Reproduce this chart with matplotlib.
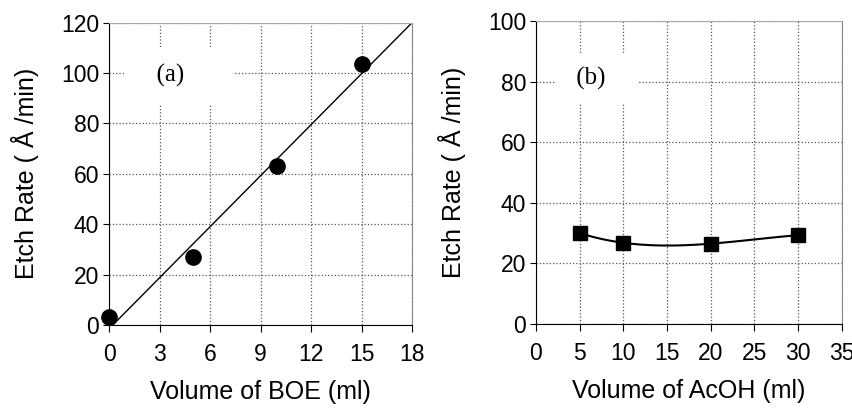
import numpy as np
import matplotlib.pyplot as plt

# (a) etch rate vs BOE volume
boe_vol = [0, 5, 10, 15]
boe_rate = [3, 27, 63, 103.5]
# (b) etch rate vs AcOH volume
acoh_vol = [5, 10, 20, 30]
acoh_rate = [30, 26.8, 26.5, 29.3]

plt.rcParams['font.family'] = ['Liberation Sans', 'DejaVu Sans']
fig = plt.figure(figsize=(8.52, 4.08), dpi=100)
ax1 = fig.add_axes([0.128, 0.2034, 0.3556, 0.7410])
ax2 = fig.add_axes([0.629, 0.206, 0.359, 0.7425])

for ax in (ax1, ax2):
    ax.grid(True, linestyle=':', color='#555555', linewidth=0.9)
    ax.set_axisbelow(True)
    ax.spines['top'].set_color('#aaaaaa')
    ax.spines['right'].set_color('#888888')
    ax.tick_params(axis='x', direction='out', length=5, pad=8, labelsize=16.5)
    ax.tick_params(axis='y', direction='out', length=4, pad=3, labelsize=16.5)
    ax.set_ylabel('Etch Rate ( Å /min)', fontsize=18, labelpad=16)

# linear fit line for (a)
k, b = np.polyfit(boe_vol, boe_rate, 1)
xf = np.linspace(0, 18, 50)
ax1.plot(xf, k * xf + b, color='black', linewidth=1)
ax1.plot(boe_vol, boe_rate, 'o', color='black', markersize=11, clip_on=False)
ax1.set_xlim(0, 18)
ax1.set_ylim(0, 120)
ax1.set_xticks(range(0, 19, 3))
ax1.set_yticks(range(0, 121, 20))
ax1.set_xlabel('Volume of BOE (ml)', fontsize=18, labelpad=10)
ax1.text(4.2, 99, '  (a)     ', fontsize=18, family='Liberation Serif', ha='center', va='center',
         bbox=dict(facecolor='white', edgecolor='none', boxstyle='square,pad=0.7'))

# smooth curve for (b)
c = np.polyfit(acoh_vol, acoh_rate, 3)
xs = np.linspace(5, 30, 100)
ax2.plot(xs, np.polyval(c, xs), color='black', linewidth=1.5)
ax2.plot(acoh_vol, acoh_rate, 's', color='black', markersize=10)
ax2.set_xlim(0, 35)
ax2.set_ylim(0, 100)
ax2.set_xticks(range(0, 36, 5))
ax2.set_yticks(range(0, 101, 20))
ax2.set_xlabel('Volume of AcOH (ml)', fontsize=18, labelpad=10)
ax2.text(7.0, 81, ' (b)   ', fontsize=18, family='Liberation Serif', ha='center', va='center',
         bbox=dict(facecolor='white', edgecolor='none', boxstyle='square,pad=0.55'))

fig.savefig('out.png', dpi=100)
